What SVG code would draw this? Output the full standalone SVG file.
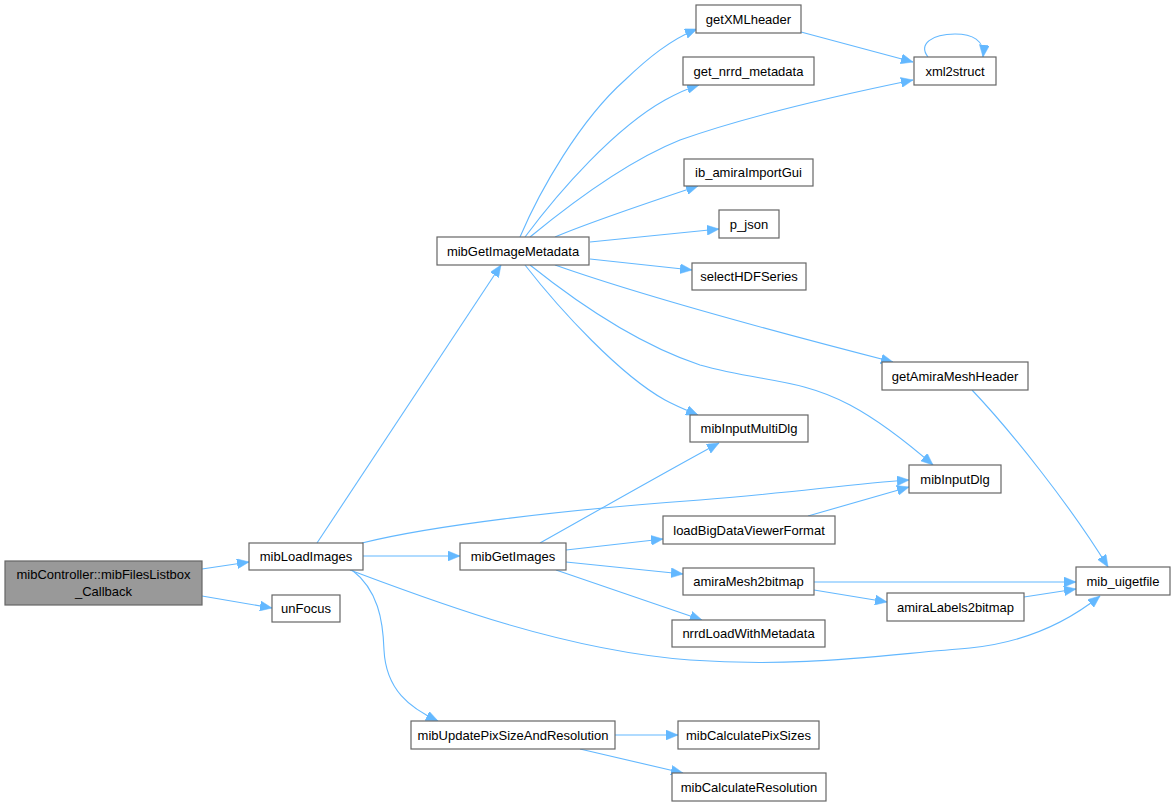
<svg xmlns="http://www.w3.org/2000/svg" width="1176" height="806" viewBox="0 0 1176 806">
<style>
.n rect{fill:#ffffff;stroke:#666666;stroke-width:1.2}
.n.root rect{fill:#999999}
.n text{font-family:"Liberation Sans",Arial,sans-serif;font-size:13px;fill:#000000;text-anchor:middle}
.e path{fill:none;stroke:#63b8ff;stroke-width:1.1;marker-end:url(#ah)}
</style>
<defs>
<marker id="ah" markerUnits="userSpaceOnUse" markerWidth="13" markerHeight="10" refX="12" refY="5" orient="auto">
<path d="M0,0 L12,5 L0,10 z" fill="#63b8ff" stroke="#63b8ff" stroke-width="0.5"/>
</marker>
</defs>
<rect width="1176" height="806" fill="#ffffff"/>
<g id="edges" class="e">
<path d="M202,569 L249,562"/>
<path d="M202,596 L272,608"/>
<path d="M317,543 L501,265"/>
<path d="M362,543 C430,526 560,510 700,500 C790,493 850,484 909,480"/>
<path d="M363,556 L460,556"/>
<path d="M350,570 C430,600 560,650 690,660 C800,668 880,655 970,648 C1030,642 1070,620 1100,596"/>
<path d="M352,570 C378,590 383,620 384,650 C386,690 410,708 438,721"/>
<path d="M520,237 C540,190 580,120 625,80 C648,58 670,40 697,29"/>
<path d="M525,237 C560,190 615,128 665,100 C676,94 686,89 699,85"/>
<path d="M530,237 C575,200 630,160 680,140 C750,115 840,95 913,80"/>
<path d="M801,32 L913,62"/>
<path d="M928,57 C918,44 932,34 955,34 C972,34 985,40 983,57"/>
<path d="M555,237 C590,222 650,202 698,186"/>
<path d="M590,242 L719,229"/>
<path d="M590,259 L692,270"/>
<path d="M555,265 C640,295 780,333 893,362"/>
<path d="M525,265 C560,310 620,375 665,400 C676,406 686,410 698,415"/>
<path d="M530,265 C580,305 640,345 700,365 C760,382 800,378 850,405 C880,421 910,445 933,465"/>
<path d="M972,390 C1010,430 1070,505 1108,567"/>
<path d="M540,543 C590,515 660,475 719,443"/>
<path d="M566,550 L663,539"/>
<path d="M808,516 L909,487"/>
<path d="M566,562 L683,574"/>
<path d="M556,570 L702,620"/>
<path d="M814,582 L1076,582"/>
<path d="M814,590 L887,602"/>
<path d="M1024,597 L1076,589"/>
<path d="M615,735 L678,735"/>
<path d="M580,749 L683,773"/>
</g>
<g id="node-root" class="n root"><rect x="5" y="561" width="197" height="44"/><text x="103.5" y="579">mibController::mibFilesListbox</text><text x="103.5" y="596">_Callback</text></g>
<g id="node-mibLoadImages" class="n"><rect x="249" y="543" width="114" height="27"/><text x="306" y="561">mibLoadImages</text></g>
<g id="node-unFocus" class="n"><rect x="272" y="595" width="68" height="27"/><text x="306" y="613">unFocus</text></g>
<g id="node-mibGetImageMetadata" class="n"><rect x="437" y="237" width="152" height="28"/><text x="513" y="256">mibGetImageMetadata</text></g>
<g id="node-getXMLheader" class="n"><rect x="696" y="5" width="105" height="28"/><text x="748.5" y="24">getXMLheader</text></g>
<g id="node-get_nrrd_metadata" class="n"><rect x="683" y="57" width="131" height="28"/><text x="748.5" y="76">get_nrrd_metadata</text></g>
<g id="node-xml2struct" class="n"><rect x="914" y="57" width="82" height="28"/><text x="955" y="76">xml2struct</text></g>
<g id="node-ib_amiraImportGui" class="n"><rect x="684" y="159" width="129" height="27"/><text x="748.5" y="177">ib_amiraImportGui</text></g>
<g id="node-p_json" class="n"><rect x="719" y="210" width="60" height="28"/><text x="749" y="229">p_json</text></g>
<g id="node-selectHDFSeries" class="n"><rect x="692" y="263" width="114" height="27"/><text x="749" y="281">selectHDFSeries</text></g>
<g id="node-getAmiraMeshHeader" class="n"><rect x="882" y="362" width="146" height="28"/><text x="955" y="381">getAmiraMeshHeader</text></g>
<g id="node-mibInputMultiDlg" class="n"><rect x="690" y="415" width="118" height="27"/><text x="749" y="433">mibInputMultiDlg</text></g>
<g id="node-mibInputDlg" class="n"><rect x="909" y="465" width="92" height="28"/><text x="955" y="484">mibInputDlg</text></g>
<g id="node-mibGetImages" class="n"><rect x="460" y="543" width="106" height="27"/><text x="513" y="561">mibGetImages</text></g>
<g id="node-loadBigDataViewerFormat" class="n"><rect x="663" y="516" width="172" height="28"/><text x="749" y="535">loadBigDataViewerFormat</text></g>
<g id="node-amiraMesh2bitmap" class="n"><rect x="683" y="568" width="131" height="27"/><text x="748.5" y="586">amiraMesh2bitmap</text></g>
<g id="node-nrrdLoadWithMetadata" class="n"><rect x="672" y="620" width="153" height="27"/><text x="748.5" y="638">nrrdLoadWithMetadata</text></g>
<g id="node-mib_uigetfile" class="n"><rect x="1076" y="567" width="94" height="28"/><text x="1123" y="586">mib_uigetfile</text></g>
<g id="node-amiraLabels2bitmap" class="n"><rect x="887" y="593" width="137" height="28"/><text x="955.5" y="612">amiraLabels2bitmap</text></g>
<g id="node-mibUpdatePixSizeAndResolution" class="n"><rect x="411" y="721" width="204" height="28"/><text x="513" y="740">mibUpdatePixSizeAndResolution</text></g>
<g id="node-mibCalculatePixSizes" class="n"><rect x="678" y="721" width="141" height="28"/><text x="748.5" y="740">mibCalculatePixSizes</text></g>
<g id="node-mibCalculateResolution" class="n"><rect x="672" y="773" width="154" height="28"/><text x="749" y="792">mibCalculateResolution</text></g>
</svg>
